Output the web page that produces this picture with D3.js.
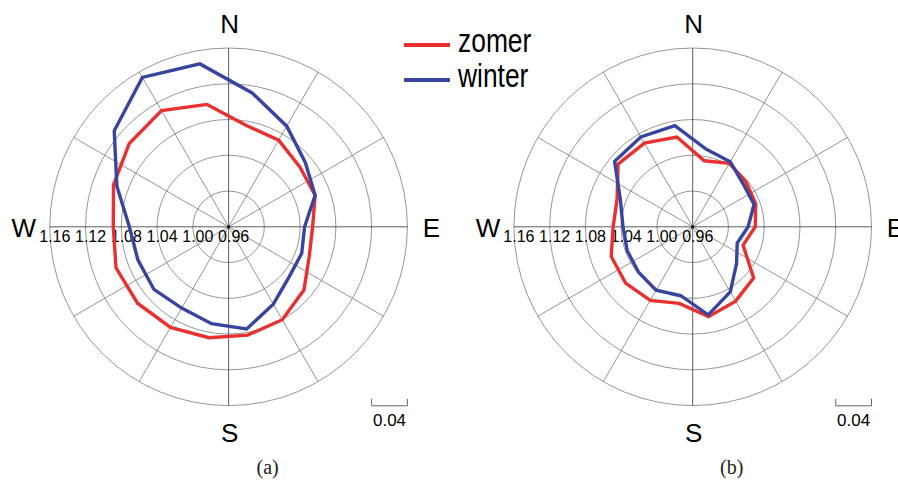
<!DOCTYPE html>
<html>
<head>
<meta charset="utf-8">
<script src="https://cdn.jsdelivr.net/npm/d3@7"></script>
<style>
  body { margin: 0; background: #fff; }
</style>
</head>
<body>
<div id="container"></div>
<script>
// sector centres in degrees, clockwise from north
const angles = [10, 30, 50, 70, 90, 110, 130, 150, 170, 190, 210, 230, 250, 270, 290, 310, 330, 350];

const zomerA = [1.075, 1.072, 1.064, 1.063, 1.054, 1.056, 1.070, 1.080, 1.083, 1.086, 1.090, 1.093, 1.094, 1.089, 1.097, 1.105, 1.110, 1.099];
const winterA = [1.112, 1.090, 1.072, 1.063, 1.045, 1.047, 1.048, 1.060, 1.076, 1.070, 1.065, 1.069, 1.068, 1.071, 1.093, 1.127, 1.153, 1.145];
const zomerB = [1.035, 1.042, 1.038, 1.035, 1.030, 1.020, 1.049, 1.056, 1.062, 1.047, 1.055, 1.058, 1.057, 1.049, 1.050, 1.069, 1.068, 1.062];
const winterB = [1.048, 1.044, 1.034, 1.033, 1.022, 1.013, 1.024, 1.044, 1.060, 1.038, 1.042, 1.039, 1.038, 1.038, 1.046, 1.074, 1.076, 1.075];

const ringTicks = [0.96, 1.00, 1.04, 1.08, 1.12, 1.16];
const spokes = [0, 30, 60, 90, 120, 150, 180, 210, 240, 270, 300, 330];
const compass = [["N", 0], ["E", 90], ["S", 180], ["W", 270]];
const seriesNames = ["zomer", "winter"];
const colors = ["#e8302f", "#3845a0"];

const main = () => {
    const w = 898;
    const h = 482;
    const R = 178.8;
    const cy = 226.8;

    const svg = d3.select('#container').append('svg')
        .attr('width', w)
        .attr('height', h)
        .style('background', '#fff');

    const rScale = d3.scaleLinear().domain([0.96, 1.16]).range([0, R]);
    const rad = (deg) => deg * Math.PI / 180;

    const drawPlot = (cx, zomer, winter, caption) => {
        const g = svg.append('g').attr('transform', `translate(${cx},${cy})`);

        g.selectAll('.ring').data(ringTicks.slice(1))
            .enter().append('circle')
            .attr('class', 'ring')
            .attr('r', (d) => rScale(d))
            .attr('fill', 'none')
            .attr('stroke', '#8a8a8a')
            .attr('stroke-width', 0.9);

        g.selectAll('.spoke').data(spokes)
            .enter().append('line')
            .attr('class', 'spoke')
            .attr('x1', 0).attr('y1', 0)
            .attr('x2', (d) => R * Math.sin(rad(d)))
            .attr('y2', (d) => -R * Math.cos(rad(d)))
            .attr('stroke', (d) => d % 90 === 0 ? '#333' : '#7a7a7a')
            .attr('stroke-width', 0.8);

        g.append('circle').attr('r', 1.6).attr('fill', '#000');

        g.selectAll('.tick').data(ringTicks)
            .enter().append('text')
            .attr('class', 'tick')
            .attr('x', (d) => -rScale(d) + 5)
            .attr('y', 15)
            .attr('text-anchor', 'middle')
            .style('font-family', 'Liberation Sans, Arial, sans-serif')
            .style('font-size', '16px')
            .text((d) => d.toFixed(2));

        g.selectAll('.dir').data(compass)
            .enter().append('text')
            .attr('class', 'dir')
            .attr('x', (d) => d[1] === 90 ? R + 24 : d[1] === 270 ? -R - 26 : 1)
            .attr('y', (d) => d[1] === 0 ? -R - 15 : d[1] === 180 ? R + 36 : 10)
            .attr('text-anchor', 'middle')
            .style('font-family', 'Liberation Sans, Arial, sans-serif')
            .style('font-size', '26px')
            .text((d) => d[0]);

        const line = d3.lineRadial()
            .angle((d) => rad(d[0]))
            .radius((d) => rScale(d[1]))
            .curve(d3.curveLinearClosed);

        [zomer, winter].forEach((vals, i) => {
            g.append('path')
                .datum(angles.map((a, j) => [a, vals[j]]))
                .attr('d', line)
                .attr('fill', 'none')
                .attr('stroke', colors[i])
                .attr('stroke-width', 3.4)
                .attr('stroke-linejoin', 'miter');
        });

        // scale bar of 0.04
        const len = rScale(1.00) - rScale(0.96);
        g.append('path')
            .attr('d', `M${R - len},${172} V${179} H${R} V${172}`)
            .attr('fill', 'none')
            .attr('stroke', '#666')
            .attr('stroke-width', 1);
        g.append('text')
            .attr('x', R - len / 2)
            .attr('y', 199)
            .attr('text-anchor', 'middle')
            .style('font-family', 'Liberation Sans, Arial, sans-serif')
            .style('font-size', '17px')
            .text('0.04');

        svg.append('text')
            .attr('x', cx + 39)
            .attr('y', 474)
            .attr('text-anchor', 'middle')
            .style('font-family', 'Liberation Serif, serif')
            .style('font-size', '20px')
            .style('fill', '#222')
            .text(caption);
    };

    drawPlot(228.6, zomerA, winterA, '(a)');
    drawPlot(692.7, zomerB, winterB, '(b)');

    // legend
    const leg = svg.append('g').attr('class', 'legend');
    seriesNames.forEach((name, i) => {
        const y = 45 + i * 35;
        leg.append('line')
            .attr('x1', 404).attr('x2', 450)
            .attr('y1', y).attr('y2', y)
            .attr('stroke', colors[i])
            .attr('stroke-width', 4);
        leg.append('text')
            .attr('transform', `translate(458,${y + 7}) scale(0.8,1)`)
            .style('font-family', 'Liberation Sans, Arial, sans-serif')
            .style('font-size', '33px')
            .text(name);
    });
};
main();
</script>
</body>
</html>
